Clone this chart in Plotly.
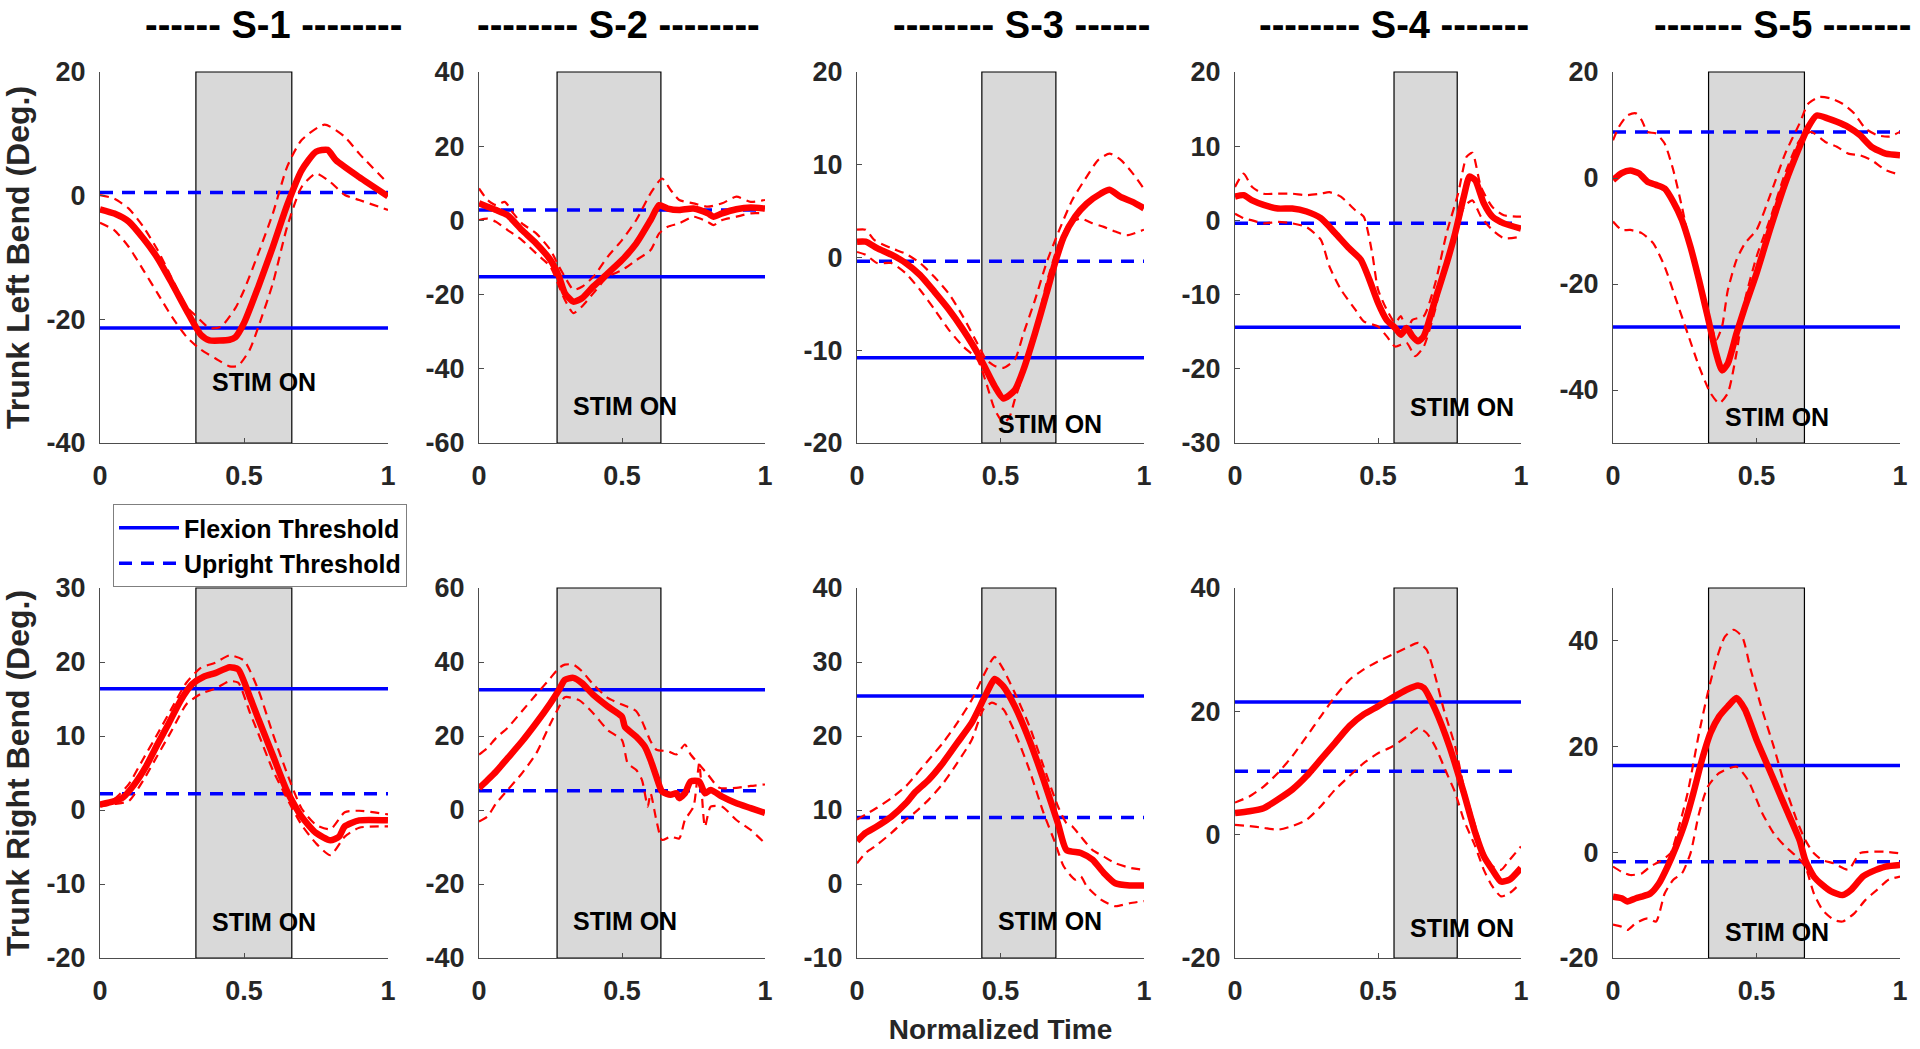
import plotly.graph_objects as go
from plotly.subplots import make_subplots

# ---------------- data ----------------
TITLES = ["------ S-1 --------", "-------- S-2 --------", "-------- S-3 ------",
          "-------- S-4 -------", "------- S-5 -------"]
ROW_LABELS = ["Trunk Left Bend (Deg.)", "Trunk Right Bend (Deg.)"]
X_LABEL = "Normalized Time"
STIM_LABEL = "STIM ON"
LEGEND_NAMES = ["Flexion Threshold", "Upright Threshold"]

STIM_START = [0.333, 0.273, 0.435, 0.556, 0.333]
STIM_END = [0.666, 0.636, 0.693, 0.777, 0.667]

FLEX_LEFT = [-21.4, -15.2, -10.8, -14.4, -28.1]
UPRIGHT_LEFT = [0.5, 2.8, -0.4, -0.4, 8.7]
FLEX_RIGHT = [16.4, 32.5, 25.4, 21.5, 16.4]
UPRIGHT_RIGHT = [2.2, 5.2, 9.0, 10.3, -1.8]

Y_RANGE_LEFT = [[-40, 20], [-60, 40], [-20, 20], [-30, 20], [-50, 20]]
Y_TICKS_LEFT = [[-40, -20, 0, 20], [-60, -40, -20, 0, 20, 40], [-20, -10, 0, 10, 20],
                [-30, -20, -10, 0, 10, 20], [-40, -20, 0, 20]]
Y_RANGE_RIGHT = [[-20, 30], [-40, 60], [-10, 40], [-20, 40], [-20, 50]]
Y_TICKS_RIGHT = [[-20, -10, 0, 10, 20, 30], [-40, -20, 0, 20, 40, 60], [-10, 0, 10, 20, 30, 40],
                 [-20, 0, 20, 40], [-20, 0, 20, 40]]
X_TICKS = [0, 0.5, 1]
X_TICK_TEXT = ["0", "0.5", "1"]

STIM_TEXT_Y_LEFT = [-30.2, -50.1, -18.0, -25.1, -45.1]
STIM_TEXT_Y_RIGHT = [-15.2, -30.1, -5.0, -15.1, -15.1]

# ---- S-1 left bend ----
L1_MEAN = [[0, -2.2], [0.05, -2.9], [0.1, -4.2], [0.15, -6.9], [0.2, -10.1], [0.25, -14.2], [0.3, -18.5],
           [0.35, -22.5], [0.38, -23.4], [0.45, -23.3], [0.47, -22.9], [0.5, -20.6], [0.55, -14.7],
           [0.6, -8.3], [0.65, -1.5], [0.7, 4.1], [0.75, 7.1], [0.79, 7.4], [0.82, 5.7], [0.9, 3.0], [1.0, -0.1]]
L1_UP = [[0, 0.1], [0.05, -0.5], [0.1, -2.1], [0.15, -5.0], [0.2, -8.8], [0.25, -13.4], [0.3, -17.9],
         [0.33, -19.3], [0.38, -21.4], [0.42, -21.2], [0.47, -18.2], [0.5, -15.3], [0.55, -9.3], [0.6, -2.9],
         [0.65, 4.7], [0.7, 9.0], [0.78, 11.5], [0.85, 9.5], [0.9, 6.8], [1.0, 2.0]]
L1_LO = [[0, -4.4], [0.05, -5.6], [0.1, -8.3], [0.15, -12.0], [0.2, -15.8], [0.25, -19.6], [0.3, -22.8],
         [0.35, -24.9], [0.4, -26.3], [0.45, -27.6], [0.48, -27.5], [0.52, -24.9], [0.55, -21.2],
         [0.6, -14.2], [0.65, -5.0], [0.7, 1.4], [0.75, 3.6], [0.8, 2.2], [0.85, 0.1], [0.9, -0.7], [1.0, -2.3]]

# ---- S-2 left bend ----
L2_MEAN = [[0, 4.6], [0.03, 3.7], [0.06, 2.8], [0.1, 1.4], [0.15, -2.6], [0.2, -6.2], [0.25, -10.7],
           [0.28, -15.2], [0.3, -19.6], [0.33, -21.9], [0.36, -21.0], [0.4, -17.8], [0.45, -14.3],
           [0.5, -10.7], [0.55, -6.2], [0.6, 0.1], [0.63, 4.1], [0.66, 3.2], [0.7, 2.8], [0.75, 3.2],
           [0.8, 1.9], [0.82, 1.0], [0.85, 1.9], [0.9, 3.0], [0.95, 3.5], [1.0, 3.2]]
L2_UP = [[0, 8.6], [0.03, 5.5], [0.06, 4.1], [0.09, 5.0], [0.12, 1.9], [0.15, -0.8], [0.2, -3.5],
         [0.25, -8.0], [0.28, -12.5], [0.3, -15.2], [0.33, -18.7], [0.36, -17.9], [0.4, -15.2],
         [0.45, -9.8], [0.5, -5.3], [0.55, 0.1], [0.6, 7.3], [0.64, 11.3], [0.67, 8.2], [0.7, 5.5],
         [0.75, 4.6], [0.8, 3.7], [0.85, 4.6], [0.9, 6.4], [0.95, 5.0], [1.0, 5.5]]
L2_LO = [[0, 0.1], [0.03, 0.5], [0.06, -0.4], [0.1, -2.6], [0.15, -5.3], [0.2, -8.9], [0.25, -12.5],
         [0.28, -17.8], [0.3, -21.4], [0.33, -25.0], [0.36, -23.2], [0.4, -19.6], [0.45, -15.2],
         [0.5, -13.4], [0.55, -10.7], [0.6, -8.0], [0.63, -3.5], [0.66, -1.7], [0.7, -0.8], [0.75, 1.0],
         [0.8, -0.4], [0.82, -1.3], [0.85, 0.1], [0.9, 1.0], [0.95, 1.9], [1.0, 1.9]]

# ---- S-3 left bend ----
L3_MEAN = [[0, 1.7], [0.03, 1.7], [0.07, 1.0], [0.12, 0.3], [0.17, -0.6], [0.22, -1.9], [0.27, -3.7],
           [0.32, -5.6], [0.37, -7.8], [0.42, -10.3], [0.45, -12.1], [0.48, -13.9], [0.51, -15.2],
           [0.55, -14.3], [0.58, -12.1], [0.62, -8.2], [0.66, -3.9], [0.69, -0.6], [0.72, 2.2],
           [0.76, 4.4], [0.8, 5.8], [0.85, 6.9], [0.88, 7.3], [0.92, 6.5], [0.96, 6.0], [1.0, 5.3]]
L3_UP = [[0, 3.0], [0.03, 3.0], [0.06, 1.9], [0.12, 1.0], [0.17, 0.4], [0.22, -0.6], [0.27, -2.1],
         [0.32, -3.9], [0.37, -6.4], [0.42, -9.3], [0.45, -11.0], [0.48, -11.7], [0.51, -11.9],
         [0.55, -11.0], [0.58, -8.2], [0.62, -4.6], [0.66, -0.6], [0.7, 2.6], [0.75, 6.2], [0.8, 8.7],
         [0.84, 10.5], [0.88, 11.2], [0.92, 10.5], [0.96, 9.1], [1.0, 7.4]]
L3_LO = [[0, 0.6], [0.03, 0.3], [0.07, -0.6], [0.12, -0.6], [0.17, -1.7], [0.22, -3.5], [0.27, -5.6],
         [0.32, -7.8], [0.37, -9.6], [0.42, -11.0], [0.45, -13.5], [0.48, -16.4], [0.51, -17.8],
         [0.53, -17.3], [0.55, -15.3], [0.58, -12.5], [0.62, -8.2], [0.66, -2.8], [0.7, 1.2],
         [0.74, 3.7], [0.78, 4.2], [0.82, 3.7], [0.86, 3.3], [0.9, 2.8], [0.94, 2.4], [1.0, 3.0]]

# ---- S-4 left bend ----
L4_MEAN = [[0, 3.2], [0.03, 3.4], [0.06, 2.7], [0.1, 2.1], [0.15, 1.6], [0.2, 1.6], [0.25, 1.2],
           [0.3, 0.3], [0.35, -1.7], [0.4, -3.8], [0.44, -5.3], [0.47, -8.0], [0.5, -11.1], [0.53, -13.4],
           [0.56, -14.5], [0.58, -15.4], [0.6, -14.5], [0.62, -15.6], [0.64, -16.3], [0.66, -15.6],
           [0.7, -10.7], [0.74, -5.8], [0.77, -1.7], [0.8, 3.2], [0.82, 5.9], [0.84, 5.4], [0.87, 2.3],
           [0.9, 0.5], [0.94, -0.4], [1.0, -1.1]]
L4_UP = [[0, 4.5], [0.03, 6.3], [0.06, 4.5], [0.1, 3.6], [0.15, 3.6], [0.2, 3.6], [0.25, 3.4], [0.3, 3.6],
         [0.33, 3.8], [0.37, 3.2], [0.42, 1.4], [0.45, 0.5], [0.48, -4.5], [0.5, -9.3], [0.53, -12.0],
         [0.56, -13.8], [0.58, -12.9], [0.6, -14.9], [0.62, -13.4], [0.66, -12.9], [0.7, -8.5],
         [0.74, -1.7], [0.78, 3.6], [0.81, 8.6], [0.83, 9.1], [0.86, 4.5], [0.9, 1.8], [0.94, 0.7], [1.0, 0.5]]
L4_LO = [[0, 0.9], [0.03, 0.3], [0.06, 0.0], [0.1, -0.4], [0.15, -0.2], [0.2, -0.4], [0.25, -0.9],
         [0.3, -2.6], [0.33, -6.2], [0.37, -9.3], [0.42, -12.0], [0.45, -13.6], [0.5, -14.3],
         [0.53, -15.6], [0.56, -17.0], [0.6, -16.5], [0.63, -18.3], [0.66, -17.0], [0.7, -12.0],
         [0.74, -5.3], [0.77, -2.6], [0.8, 1.8], [0.83, 2.7], [0.86, 0.5], [0.9, -1.3], [0.94, -2.4], [1.0, -2.2]]

# ---- S-5 left bend ----
L5_MEAN = [[0, -0.4], [0.03, 0.9], [0.06, 1.4], [0.09, 0.9], [0.12, -0.7], [0.15, -1.3], [0.18, -2.0],
           [0.21, -4.5], [0.24, -7.9], [0.27, -13.0], [0.3, -19.3], [0.33, -26.2], [0.36, -33.2],
           [0.38, -36.3], [0.4, -35.0], [0.43, -29.4], [0.46, -24.3], [0.5, -18.0], [0.55, -9.2],
           [0.6, -1.0], [0.65, 5.9], [0.68, 9.6], [0.71, 11.8], [0.75, 11.2], [0.78, 10.6], [0.82, 9.6],
           [0.86, 8.1], [0.9, 5.9], [0.95, 4.6], [1.0, 4.3]]
L5_UP = [[0, 7.1], [0.02, 9.6], [0.05, 11.8], [0.08, 12.2], [0.1, 10.9], [0.12, 8.7], [0.15, 8.4],
         [0.18, 6.5], [0.21, 1.5], [0.24, -5.4], [0.27, -13.0], [0.3, -19.9], [0.33, -25.5], [0.36, -30.5],
         [0.38, -28.0], [0.4, -21.2], [0.43, -15.5], [0.46, -12.3], [0.5, -9.8], [0.55, -2.9], [0.6, 4.6],
         [0.65, 10.3], [0.68, 14.0], [0.72, 15.3], [0.76, 15.0], [0.8, 14.0], [0.84, 12.2], [0.88, 9.3],
         [0.92, 8.1], [0.96, 7.8], [1.0, 8.7]]
L5_LO = [[0, -8.2], [0.03, -9.8], [0.06, -9.8], [0.1, -10.4], [0.14, -12.3], [0.18, -16.7], [0.22, -23.0],
         [0.26, -29.3], [0.3, -35.6], [0.34, -40.6], [0.37, -42.5], [0.4, -40.6], [0.43, -33.1],
         [0.46, -23.0], [0.5, -14.9], [0.55, -7.3], [0.6, 0.9], [0.65, 7.1], [0.69, 8.7], [0.74, 6.8],
         [0.78, 5.9], [0.82, 4.6], [0.86, 4.3], [0.9, 3.4], [0.95, 1.5], [1.0, 0.6]]

# ---- S-1 right bend ----
R1_MEAN = [[0, 0.75], [0.05, 1.2], [0.08, 1.7], [0.12, 3.5], [0.16, 5.9], [0.2, 8.9], [0.24, 11.8],
           [0.28, 14.8], [0.32, 17.0], [0.36, 18.0], [0.4, 18.5], [0.45, 19.3], [0.48, 19.0], [0.52, 15.3],
           [0.55, 12.3], [0.6, 7.4], [0.65, 2.5], [0.7, -0.9], [0.75, -3.1], [0.8, -4.1], [0.83, -3.6],
           [0.85, -2.2], [0.9, -1.4], [1.0, -1.4]]
R1_UP = [[0, 0.75], [0.05, 1.5], [0.1, 3.5], [0.15, 6.9], [0.2, 10.3], [0.25, 13.8], [0.3, 17.2],
         [0.35, 19.2], [0.4, 19.9], [0.45, 20.9], [0.5, 20.2], [0.55, 16.2], [0.6, 10.3], [0.65, 4.9],
         [0.7, 0.2], [0.75, -2.0], [0.8, -2.6], [0.85, -0.3], [0.9, -0.1], [1.0, -0.6]]
R1_LO = [[0, 0.5], [0.05, 0.8], [0.1, 1.2], [0.15, 4.0], [0.2, 7.4], [0.25, 10.8], [0.3, 14.3],
         [0.35, 15.7], [0.4, 16.4], [0.45, 17.4], [0.48, 17.2], [0.52, 13.2], [0.55, 10.3], [0.6, 5.4],
         [0.65, 1.5], [0.7, -2.0], [0.75, -4.5], [0.8, -6.1], [0.85, -3.6], [0.9, -2.4], [1.0, -2.2]]

# ---- S-2 right bend ----
R2_MEAN = [[0, 5.9], [0.03, 8.1], [0.06, 10.4], [0.1, 14.0], [0.15, 18.5], [0.2, 23.5], [0.25, 28.9],
           [0.28, 32.5], [0.3, 35.2], [0.33, 35.7], [0.36, 34.3], [0.4, 31.1], [0.45, 28.0], [0.5, 25.2],
           [0.51, 22.5], [0.55, 19.8], [0.58, 17.1], [0.6, 13.5], [0.62, 9.0], [0.64, 5.0], [0.67, 4.1],
           [0.69, 4.5], [0.7, 3.2], [0.72, 4.5], [0.74, 7.7], [0.77, 7.7], [0.79, 4.5], [0.81, 5.4],
           [0.85, 3.6], [0.9, 1.8], [0.95, 0.5], [1.0, -0.8]]
R2_UP = [[0, 15.0], [0.03, 16.8], [0.06, 19.5], [0.1, 22.2], [0.15, 26.7], [0.2, 31.2], [0.25, 35.7],
         [0.28, 38.4], [0.3, 39.3], [0.33, 39.3], [0.36, 37.5], [0.4, 33.9], [0.45, 30.3], [0.5, 28.5],
         [0.55, 26.7], [0.57, 24.0], [0.6, 18.6], [0.62, 16.3], [0.66, 15.9], [0.69, 15.0], [0.72, 17.7],
         [0.74, 15.0], [0.77, 12.3], [0.8, 9.6], [0.84, 6.0], [0.9, 6.0], [0.95, 6.5], [1.0, 6.9]]
R2_LO = [[0, -3.1], [0.03, -1.7], [0.06, 1.8], [0.1, 5.4], [0.15, 9.9], [0.2, 15.3], [0.25, 23.4],
         [0.28, 27.9], [0.3, 30.5], [0.35, 29.7], [0.4, 26.1], [0.45, 21.6], [0.5, 18.9], [0.52, 12.6],
         [0.55, 10.8], [0.57, 8.1], [0.59, 0.9], [0.6, 4.5], [0.62, -2.7], [0.64, -8.1], [0.67, -7.2],
         [0.7, -7.7], [0.72, -2.7], [0.75, 0.9], [0.77, 12.6], [0.79, -4.5], [0.81, 0.9], [0.85, 0.9],
         [0.9, -2.7], [0.95, -5.4], [1.0, -9.0]]

# ---- S-3 right bend ----
R3_MEAN = [[0, 5.8], [0.03, 6.9], [0.07, 7.8], [0.12, 9.1], [0.17, 10.9], [0.2, 12.3], [0.25, 14.1],
           [0.3, 16.4], [0.35, 19.1], [0.4, 21.8], [0.44, 24.9], [0.47, 27.2], [0.48, 27.7], [0.51, 26.7],
           [0.55, 24.0], [0.6, 19.5], [0.65, 14.1], [0.7, 8.2], [0.73, 4.6], [0.78, 4.2], [0.82, 3.3],
           [0.86, 1.5], [0.9, 0.1], [0.95, -0.2], [1.0, -0.2]]
R3_UP = [[0, 8.7], [0.03, 9.4], [0.07, 10.3], [0.12, 11.6], [0.17, 13.2], [0.2, 14.5], [0.25, 16.8],
         [0.3, 19.1], [0.35, 21.8], [0.4, 24.9], [0.44, 28.1], [0.47, 30.3], [0.48, 30.7], [0.51, 29.0],
         [0.55, 25.8], [0.6, 21.4], [0.65, 15.9], [0.7, 10.5], [0.73, 8.2], [0.75, 7.8], [0.78, 6.4],
         [0.82, 4.6], [0.86, 3.7], [0.9, 2.8], [0.95, 2.2], [1.0, 1.9]]
R3_LO = [[0, 2.8], [0.03, 4.2], [0.07, 5.3], [0.12, 6.9], [0.17, 8.7], [0.2, 9.6], [0.25, 11.4],
         [0.3, 13.6], [0.35, 16.4], [0.4, 19.5], [0.44, 23.6], [0.47, 24.5], [0.51, 23.6], [0.55, 20.5],
         [0.6, 15.5], [0.65, 9.6], [0.69, 5.6], [0.72, 2.4], [0.76, 0.6], [0.78, 1.0], [0.8, -0.3],
         [0.85, -2.1], [0.9, -3.0], [0.95, -2.6], [1.0, -2.3]]

# ---- S-4 right bend ----
R4_MEAN = [[0, 3.5], [0.05, 3.8], [0.1, 4.3], [0.15, 5.7], [0.2, 7.3], [0.25, 9.5], [0.3, 12.2],
           [0.35, 14.9], [0.4, 17.6], [0.45, 19.5], [0.5, 20.8], [0.55, 22.2], [0.6, 23.5], [0.64, 24.2],
           [0.66, 23.8], [0.7, 20.3], [0.75, 14.3], [0.8, 6.8], [0.84, 0.3], [0.87, -3.5], [0.9, -5.7],
           [0.93, -7.6], [0.96, -7.3], [1.0, -5.4]]
R4_UP = [[0, 5.2], [0.05, 6.2], [0.1, 7.8], [0.15, 10.0], [0.2, 12.7], [0.25, 15.9], [0.3, 19.2],
         [0.35, 22.4], [0.4, 25.1], [0.45, 26.8], [0.5, 28.1], [0.55, 29.2], [0.6, 30.3], [0.64, 31.1],
         [0.67, 30.0], [0.7, 25.7], [0.73, 20.3], [0.77, 14.3], [0.8, 7.8], [0.84, 1.4], [0.87, -2.9],
         [0.9, -5.1], [0.93, -5.7], [0.96, -4.1], [1.0, -1.9]]
R4_LO = [[0, 1.6], [0.05, 1.4], [0.1, 1.1], [0.15, 0.8], [0.2, 1.4], [0.25, 2.4], [0.3, 4.6], [0.35, 7.3],
         [0.4, 9.5], [0.45, 11.6], [0.5, 13.2], [0.55, 14.3], [0.6, 15.9], [0.64, 17.3], [0.67, 16.5],
         [0.7, 14.3], [0.74, 10.0], [0.77, 6.8], [0.8, 2.4], [0.84, -1.9], [0.87, -5.7], [0.9, -8.4],
         [0.93, -10.0], [0.96, -9.5], [1.0, -7.8]]

# ---- S-5 right bend ----
R5_MEAN = [[0, -8.4], [0.03, -8.7], [0.05, -9.3], [0.08, -8.7], [0.1, -8.4], [0.13, -7.8], [0.16, -5.9],
           [0.19, -2.7], [0.22, 1.1], [0.25, 5.5], [0.28, 11.2], [0.31, 17.5], [0.34, 22.6], [0.37, 25.7],
           [0.4, 27.6], [0.43, 29.2], [0.46, 27.0], [0.5, 21.3], [0.55, 15.0], [0.6, 8.6], [0.65, 2.3],
           [0.67, -1.5], [0.7, -4.6], [0.73, -6.2], [0.76, -7.4], [0.8, -8.1], [0.83, -7.1], [0.87, -4.6],
           [0.9, -3.7], [0.95, -2.7], [1.0, -2.4]]
R5_UP = [[0, -2.7], [0.03, -3.7], [0.06, -4.3], [0.1, -4.0], [0.13, -2.7], [0.16, -1.8], [0.2, -0.2],
         [0.23, 4.9], [0.26, 11.2], [0.3, 22.6], [0.33, 30.1], [0.36, 36.4], [0.39, 40.8], [0.42, 42.1],
         [0.45, 40.8], [0.48, 34.5], [0.52, 26.9], [0.56, 20.0], [0.6, 12.4], [0.64, 6.1], [0.67, 2.3],
         [0.7, -0.2], [0.73, -1.5], [0.77, -2.1], [0.82, -3.3], [0.86, -0.2], [0.9, 0.1], [0.95, 0.1], [1.0, -0.2]]
R5_LO = [[0, -13.7], [0.03, -14.1], [0.05, -14.7], [0.08, -13.4], [0.12, -12.5], [0.15, -13.1],
         [0.18, -7.8], [0.21, -5.2], [0.24, -4.0], [0.27, -0.2], [0.3, 7.4], [0.33, 12.4], [0.37, 15.0],
         [0.43, 16.2], [0.47, 13.7], [0.52, 7.4], [0.56, 3.6], [0.6, 1.1], [0.64, -0.8], [0.67, -2.7],
         [0.7, -7.8], [0.73, -10.9], [0.77, -12.8], [0.8, -13.1], [0.84, -11.6], [0.88, -9.0],
         [0.92, -7.1], [0.96, -5.2], [1.0, -4.6]]

LEFT_CURVES = [(L1_MEAN, L1_UP, L1_LO), (L2_MEAN, L2_UP, L2_LO), (L3_MEAN, L3_UP, L3_LO),
               (L4_MEAN, L4_UP, L4_LO), (L5_MEAN, L5_UP, L5_LO)]
RIGHT_CURVES = [(R1_MEAN, R1_UP, R1_LO), (R2_MEAN, R2_UP, R2_LO), (R3_MEAN, R3_UP, R3_LO),
                (R4_MEAN, R4_UP, R4_LO), (R5_MEAN, R5_UP, R5_LO)]

# ---------------- layout geometry (pixels of a 1920x1049 figure) ----------------
W, H = 1920, 1049
COL_PX = [(100, 388), (479, 765), (857, 1144), (1235, 1521), (1613, 1900)]
ROW_PX = [(72, 443), (588, 958)]
TITLE_CX = [273, 618, 1021, 1394, 1782]

FONT = "Liberation Sans, Arial, Helvetica, sans-serif"
RED = "#ff0000"
BLUE = "#0000ff"
AX_COLOR = "#4d4d4d"
TXT = "#262626"

fig = make_subplots(rows=2, cols=5)


def xy(pts):
    return [p[0] for p in pts], [p[1] for p in pts]


for r in range(2):
    curves = LEFT_CURVES if r == 0 else RIGHT_CURVES
    flex = FLEX_LEFT if r == 0 else FLEX_RIGHT
    upr = UPRIGHT_LEFT if r == 0 else UPRIGHT_RIGHT
    yr = Y_RANGE_LEFT if r == 0 else Y_RANGE_RIGHT
    yt = Y_TICKS_LEFT if r == 0 else Y_TICKS_RIGHT
    ty = STIM_TEXT_Y_LEFT if r == 0 else STIM_TEXT_Y_RIGHT
    for c in range(5):
        row, col = r + 1, c + 1
        idx = r * 5 + c + 1
        first = (idx == 1)
        # thresholds
        fig.add_trace(go.Scatter(x=[0, 1], y=[flex[c], flex[c]], mode="lines",
                                 line=dict(color=BLUE, width=3.5), name=LEGEND_NAMES[0],
                                 showlegend=first, legendgroup="flex", hoverinfo="skip"),
                      row=row, col=col)
        fig.add_trace(go.Scatter(x=[0, 1], y=[upr[c], upr[c]], mode="lines",
                                 line=dict(color=BLUE, width=3.5, dash="13px,9px"), name=LEGEND_NAMES[1],
                                 showlegend=first, legendgroup="upr", hoverinfo="skip"),
                      row=row, col=col)
        mean, up, lo = curves[c]
        for band in (up, lo):
            bx, by = xy(band)
            fig.add_trace(go.Scatter(x=bx, y=by, mode="lines", showlegend=False,
                                     line=dict(color=RED, width=2.2, dash="9px,6px", shape="spline",
                                               smoothing=0.6)),
                          row=row, col=col)
        mx, my = xy(mean)
        fig.add_trace(go.Scatter(x=mx, y=my, mode="lines", showlegend=False,
                                 line=dict(color=RED, width=6.5, shape="spline", smoothing=0.6)),
                      row=row, col=col)
        xname = "x" if idx == 1 else f"x{idx}"
        yname = "y" if idx == 1 else f"y{idx}"
        # stimulation window
        fig.add_shape(type="rect", xref=xname, yref=f"{yname} domain", x0=STIM_START[c], x1=STIM_END[c],
                      y0=0, y1=1, fillcolor="#d9d9d9", line=dict(color="black", width=1.2), layer="below")
        fig.add_annotation(x=STIM_START[c] + 0.05, y=ty[c], xref=xname, yref=yname, text=STIM_LABEL,
                           showarrow=False, xanchor="left", yanchor="middle",
                           font=dict(family=FONT, size=25, color="black", weight="bold"))
        x0p, x1p = COL_PX[c]
        y0p, y1p = ROW_PX[r]
        axis_common = dict(showline=True, linecolor=AX_COLOR, linewidth=1.2, ticks="inside",
                           tickcolor=AX_COLOR, ticklen=5, tickwidth=1.2, showgrid=False, zeroline=False,
                           mirror=False, automargin=False,
                           tickfont=dict(family=FONT, size=27, color=TXT, weight="bold"))
        fig.update_xaxes(domain=[x0p / W, x1p / W], range=[0, 1], tickvals=X_TICKS, ticktext=X_TICK_TEXT,
                         ticklabelstandoff=8, row=row, col=col, **axis_common)
        fig.update_yaxes(domain=[1 - y1p / H, 1 - y0p / H], range=yr[c], tickvals=yt[c],
                         ticktext=[str(v) for v in yt[c]],
                         ticklabelstandoff=8, row=row, col=col, **axis_common)
        if c == 0:
            fig.update_yaxes(title=dict(text=ROW_LABELS[r], standoff=8,
                                        font=dict(family=FONT, size=32, color=TXT, weight="bold")),
                             row=row, col=col)
        if r == 1 and c == 2:
            fig.update_xaxes(title=dict(text=X_LABEL, standoff=14,
                                        font=dict(family=FONT, size=28, color=TXT, weight="bold")),
                             row=row, col=col)

# subject titles
for c in range(5):
    fig.add_annotation(x=TITLE_CX[c] / W, y=1 - 25 / H, xref="paper", yref="paper", text=TITLES[c],
                       showarrow=False, xanchor="center", yanchor="middle",
                       font=dict(family=FONT, size=38, color="black", weight="bold"))

fig.update_layout(
    width=W, height=H, margin=dict(l=0, r=0, t=0, b=0, autoexpand=False),
    paper_bgcolor="white", plot_bgcolor="white",
    font=dict(family=FONT, color=TXT),
    legend=dict(x=113 / W, y=1 - 504 / H, xanchor="left", yanchor="top", bgcolor="white",
                bordercolor="#7f7f7f", borderwidth=1, tracegroupgap=0, itemwidth=60,
                font=dict(family=FONT, size=25, color="black", weight="bold")),
)

fig.write_html("out.html", config={"displayModeBar": False},
               post_script="document.body.style.margin='0px';document.body.style.overflow='hidden';")
